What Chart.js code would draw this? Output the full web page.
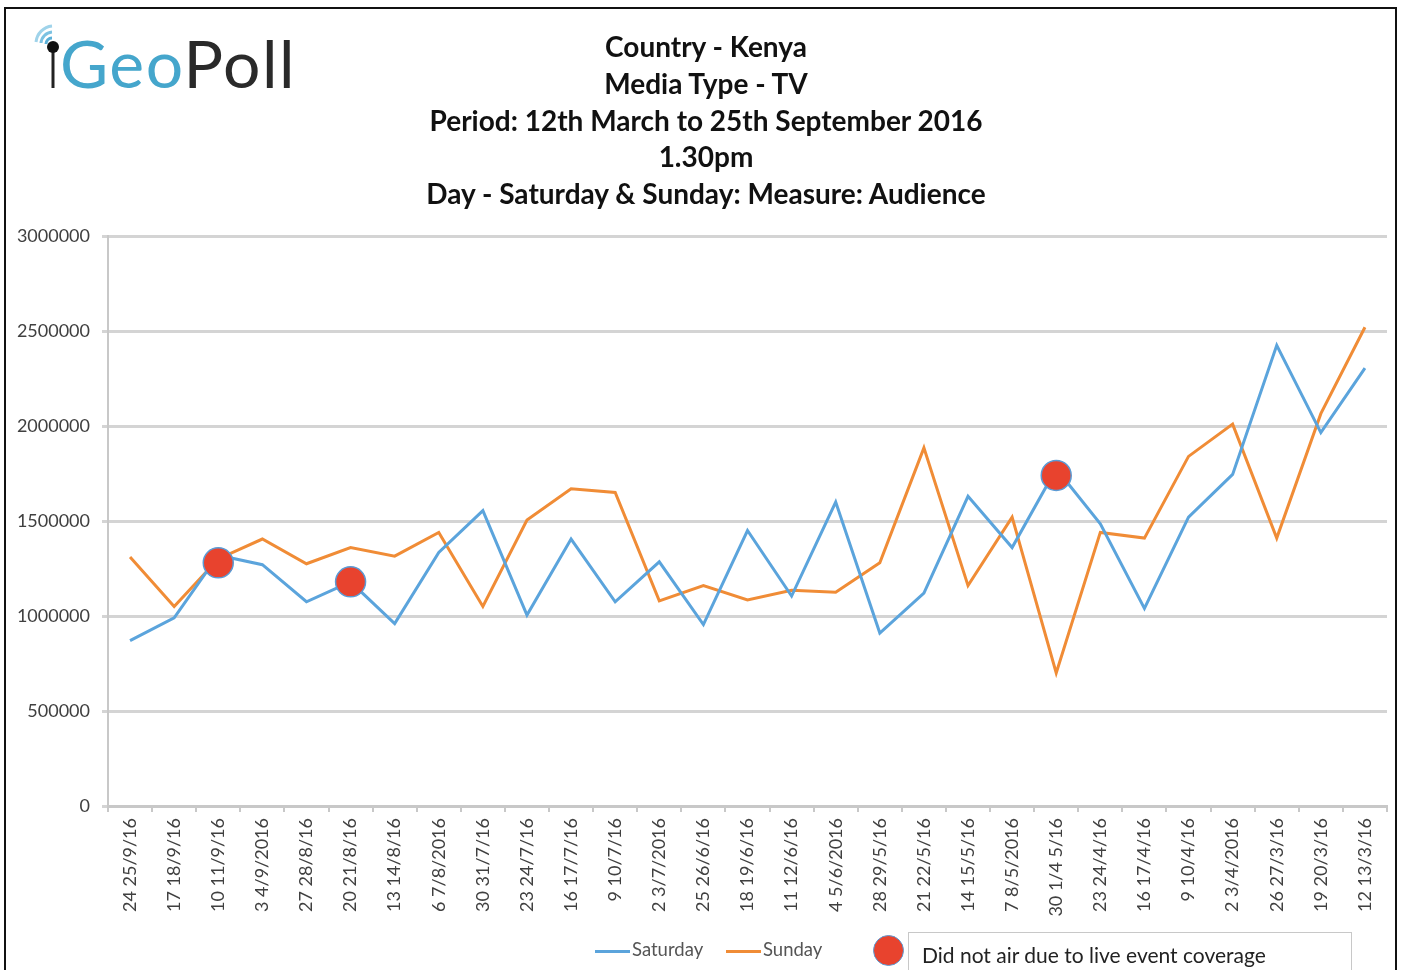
<!DOCTYPE html>
<html>
<head>
<meta charset="utf-8">
<script src="https://cdn.jsdelivr.net/npm/chart.js@4"></script>
<style>
  body { margin: 0; width: 1408px; height: 970px; overflow: hidden; background: #fff; position: relative; }
  #chart { position: absolute; left: 0; top: 0; }
  .frame { position: absolute; left: 4px; top: 7px; width: 1389px; height: 1000px; border: 2px solid #111; pointer-events: none; }
  .logo { position: absolute; left: 22px; top: 20px; width: 300px; height: 80px; }
  .logo .word { position: absolute; left: 38px; top: 3px; font-family: Lato, sans-serif; font-size: 66px; letter-spacing: 1.5px; line-height: 80px; white-space: nowrap; }
  .geo { color: #45a6cc; }
  .poll { color: #2a2a2a; }
  .title { position: absolute; left: 0; top: 28px; width: 1412px; text-align: center; font-family: Lato, sans-serif; font-weight: bold; font-size: 28px; line-height: 36.8px; color: #111; }
  .legend { position: absolute; left: 0; top: 0; font-family: Lato, sans-serif; color: #555; font-size: 18.5px; }
  .legend .item { position: absolute; top: 938px; height: 22px; line-height: 22px; white-space: nowrap; }
  .legend .swatch { display: inline-block; width: 35px; height: 3px; vertical-align: middle; margin-right: 2px; }
  .dot { position: absolute; left: 873px; top: 935px; width: 31px; height: 31px; border-radius: 50%; background: #e8432e; border: 1.5px solid #5b9bd5; box-sizing: border-box; }
  .note { position: absolute; left: 908px; top: 932px; width: 444px; height: 60px; border: 1px solid #c8c8c8; box-sizing: border-box; font-size: 21px; color: #222; padding-left: 13px; line-height: 44px; white-space: nowrap; }
</style>
</head>
<body>
<canvas id="chart" width="1408" height="970"></canvas>

<div class="logo">
  <svg width="60" height="80" style="position:absolute;left:0;top:0">
    <path d="M14 22 A18 18 0 0 1 30 6" stroke="#9fd3ea" stroke-width="3" fill="none"/>
    <path d="M19 23 A12 12 0 0 1 30 12" stroke="#7cc2e2" stroke-width="3" fill="none"/>
    <path d="M24 24 A6 6 0 0 1 30 18" stroke="#5bb0d8" stroke-width="3" fill="none"/>
    <line x1="31" y1="28" x2="31" y2="68" stroke="#222" stroke-width="3"/>
    <circle cx="31" cy="27" r="6" fill="#111"/>
  </svg>
  <div class="word"><span class="geo">Geo</span><span class="poll">Poll</span></div>
</div>

<div class="title" id="title"></div>

<div class="legend">
  <div class="item" style="left:595px"><span class="swatch" style="background:#5ba4dc"></span>Saturday</div>
  <div class="item" style="left:726px"><span class="swatch" style="background:#f08c36"></span>Sunday</div>
  <div class="dot"></div>
  <div class="note">Did not air due to live event coverage</div>
</div>

<div class="frame"></div>

<script>
// weekend dates, newest first (as on the original axis)
const weekends = ['24 25/9/16', '17 18/9/16', '10 11/9/16', '3 4/9/2016', '27 28/8/16', '20 21/8/16',
  '13 14/8/16', '6 7/8/2016', '30 31/7/16', '23 24/7/16', '16 17/7/16', '9 10/7/16', '2 3/7/2016',
  '25 26/6/16', '18 19/6/16', '11 12/6/16', '4 5/6/2016', '28 29/5/16', '21 22/5/16', '14 15/5/16',
  '7 8/5/2016', '30 1/4 5/16', '23 24/4/16', '16 17/4/16', '9 10/4/16', '2 3/4/2016', '26 27/3/16',
  '19 20/3/16', '12 13/3/16'];

const saturday = [870000, 990000, 1320000, 1270000, 1075000, 1180000, 960000, 1335000, 1555000, 1005000,
  1405000, 1075000, 1285000, 955000, 1450000, 1105000, 1600000, 910000, 1120000, 1630000,
  1360000, 1775000, 1485000, 1040000, 1520000, 1745000, 2425000, 1965000, 2305000];

const sunday = [1310000, 1050000, 1300000, 1405000, 1275000, 1360000, 1315000, 1440000, 1050000, 1505000,
  1670000, 1650000, 1080000, 1160000, 1085000, 1135000, 1125000, 1280000, 1885000, 1160000,
  1520000, 700000, 1440000, 1410000, 1840000, 2010000, 1410000, 2065000, 2520000];

// markers for programmes that did not air
const notAired = [null, null, 1280000, null, null, 1180000, null, null, null, null,
  null, null, null, null, null, null, null, null, null, null,
  null, 1740000, null, null, null, null, null, null, null];

const yTicks = [0, 500000, 1000000, 1500000, 2000000, 2500000, 3000000];

const titleLines = ['Country - Kenya', 'Media Type - TV', 'Period: 12th March to 25th September 2016',
  '1.30pm', 'Day - Saturday & Sunday: Measure: Audience'];

const titleEl = document.getElementById('title');
titleLines.forEach(t => {
  const d = document.createElement('div');
  d.textContent = t;
  titleEl.appendChild(d);
});

const ctx = document.getElementById('chart').getContext('2d');

new Chart(ctx, {
  type: 'line',
  data: {
    labels: weekends,
    datasets: [
      {
        label: 'Did not air due to live event coverage',
        data: notAired,
        showLine: false,
        pointRadius: 15,
        pointHoverRadius: 15,
        pointBackgroundColor: '#e8432e',
        pointBorderColor: '#5b9bd5',
        pointBorderWidth: 1.5,
        order: 0
      },
      {
        label: 'Saturday',
        data: saturday,
        borderColor: '#5ba4dc',
        borderWidth: 3,
        pointRadius: 0,
        tension: 0,
        order: 1
      },
      {
        label: 'Sunday',
        data: sunday,
        borderColor: '#f08c36',
        borderWidth: 3,
        pointRadius: 0,
        tension: 0,
        order: 2
      }
    ]
  },
  options: {
    responsive: false,
    animation: false,
    layout: { padding: { left: 0, right: 21, top: 236, bottom: 0 } },
    plugins: {
      legend: { display: false },
      tooltip: { enabled: false }
    },
    scales: {
      x: {
        offset: true,
        afterFit: (scale) => { scale.height = 164; },
        grid: { offset: true, drawOnChartArea: false, tickLength: 6, color: '#c8c8c8', lineWidth: 2 },
        border: { color: '#c8c8c8', width: 3 },
        ticks: {
          autoSkip: false,
          minRotation: 90,
          maxRotation: 90,
          padding: 6,
          color: '#404040',
          font: { family: 'Lato', size: 18 }
        }
      },
      y: {
        min: 0,
        max: 3000000,
        afterFit: (scale) => { scale.width = 108; },
        afterBuildTicks: (scale) => { scale.ticks = yTicks.map(v => ({ value: v })); },
        grid: { color: '#d4d4d4', lineWidth: 3, tickLength: 6 },
        border: { color: '#c8c8c8', width: 2 },
        ticks: {
          padding: 12,
          color: '#404040',
          font: { family: 'Lato', size: 18 },
          callback: (v) => String(v)
        }
      }
    }
  }
});
</script>
</body>
</html>
